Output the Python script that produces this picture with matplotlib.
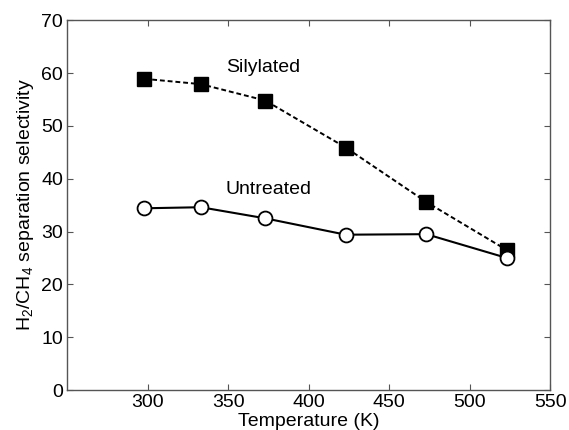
import matplotlib
matplotlib.use('Agg')
import matplotlib.pyplot as plt

plt.rcParams['font.family'] = ['Liberation Sans', 'DejaVu Sans']
plt.rcParams['mathtext.fontset'] = 'custom'
plt.rcParams['mathtext.rm'] = 'Liberation Sans'

temperature = [298, 333, 373, 423, 473, 523]
silylated = [58.9, 57.9, 54.8, 45.9, 35.6, 26.5]
untreated = [34.4, 34.6, 32.5, 29.4, 29.5, 25.0]

fig = plt.figure(figsize=(5.69, 4.30), dpi=100)
ax = fig.add_axes([0.118, 0.093, 0.849, 0.860])

ax.plot(temperature, silylated, color='black', linestyle=(0, (2.5, 1.5)), linewidth=1.4,
        marker='s', markersize=9.5, markerfacecolor='black', markeredgecolor='black', zorder=3)
ax.plot(temperature, untreated, color='black', linestyle='-', linewidth=1.5,
        marker='o', markersize=10, markerfacecolor='white', markeredgecolor='black',
        markeredgewidth=1.3, zorder=4)

ax.text(372, 61.1, 'Silylated', ha='center', va='center', fontsize=14)
ax.text(375, 38.0, 'Untreated', ha='center', va='center', fontsize=14)

ax.set_xlim(250, 550)
ax.set_ylim(0, 70)
ax.set_xticks([300, 350, 400, 450, 500, 550])
ax.set_yticks([0, 10, 20, 30, 40, 50, 60, 70])
ax.tick_params(direction='in', top=True, right=True, labelsize=14, length=4,
               color='#555555', pad=3)
for s in ax.spines.values():
    s.set_color('#555555')
    s.set_linewidth(1.0)

ax.set_xlabel('Temperature (K)', fontsize=14, labelpad=1)
ax.set_ylabel('H$_2$/CH$_4$ separation selectivity', fontsize=14, labelpad=4)

plt.savefig('out.png', dpi=100)
